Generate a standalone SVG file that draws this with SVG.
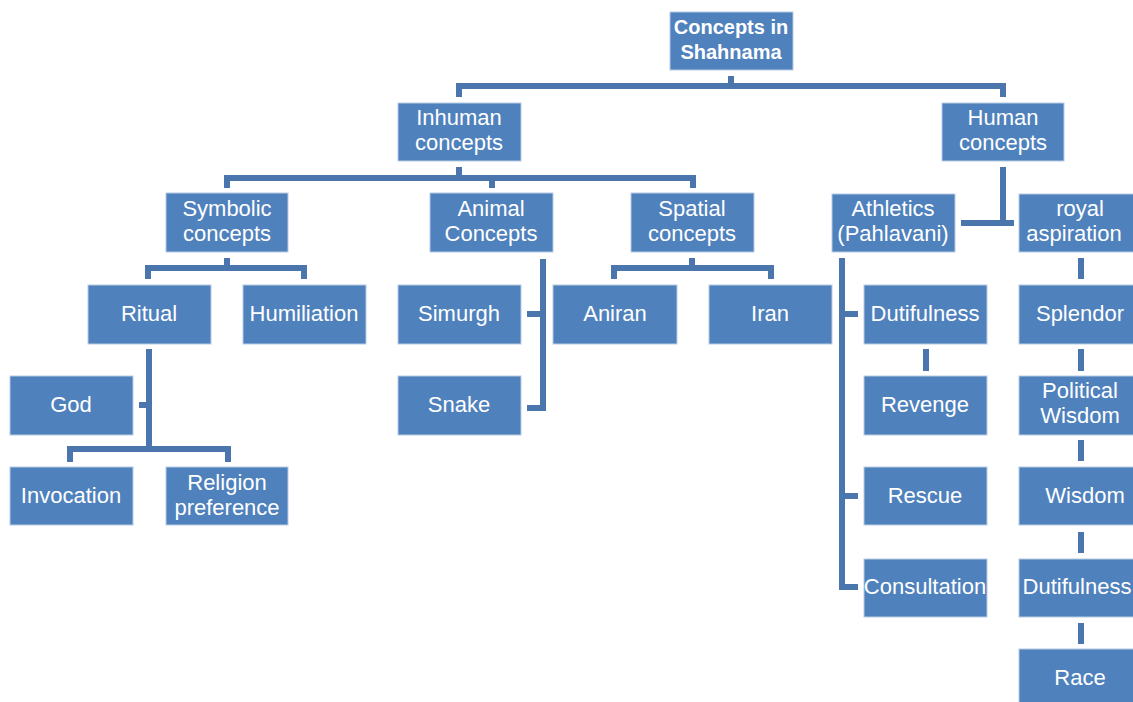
<svg xmlns="http://www.w3.org/2000/svg" width="1133" height="702" viewBox="0 0 1133 702">
<style>
.n rect{fill:#4F81BD;stroke:#B8CCE4;stroke-width:1}
.n text{fill:#fff;font-family:"Liberation Sans",Arial,sans-serif;font-size:22px;text-anchor:middle}
.n text.b{font-weight:bold;font-size:20px}
.c path{fill:none;stroke:#4A75AD;stroke-width:6;stroke-linejoin:miter}
</style>
<rect width="1133" height="702" fill="#fff"/>
<g class="c">
<path d="M731 76V86M459 97V86H1003V97"/>
<path d="M459 167V178M227 188V178H693V188M492 178V188"/>
<path d="M227 258V268M148 279V268H304V279"/>
<path d="M149 349V449M70 462V449H228V462M139 405H149"/>
<path d="M543 259V408H527M527 314H543"/>
<path d="M692 258V268M614 279V268H771V279"/>
<path d="M1003 167V223M961 223H1014"/>
<path d="M842 258V587H858M842 314H858M842 496H858"/>
<path d="M926 349V371"/>
<path d="M1081 258V279M1081 349V371M1081 440V461M1081 532V553M1081 623V644"/>
</g>
<g class="n" id="n-root"><rect x="670" y="12" width="123" height="58"/><text class="b" x="731" y="34">Concepts in</text><text class="b" x="731" y="59">Shahnama</text></g>
<g class="n" id="n-inhuman"><rect x="398" y="103" width="123" height="58"/><text x="459" y="125">Inhuman</text><text x="459" y="150">concepts</text></g>
<g class="n" id="n-human"><rect x="942" y="103" width="122" height="58"/><text x="1003" y="125">Human</text><text x="1003" y="150">concepts</text></g>
<g class="n" id="n-symbolic"><rect x="166" y="193" width="122" height="59"/><text x="227" y="216">Symbolic</text><text x="227" y="241">concepts</text></g>
<g class="n" id="n-animal"><rect x="430" y="193" width="123" height="59"/><text x="491" y="216">Animal</text><text x="491" y="241">Concepts</text></g>
<g class="n" id="n-spatial"><rect x="631" y="193" width="123" height="59"/><text x="692" y="216">Spatial</text><text x="692" y="241">concepts</text></g>
<g class="n" id="n-athletics"><rect x="832" y="194" width="123" height="58"/><text x="893" y="216">Athletics</text><text x="893" y="241">(Pahlavani)</text></g>
<g class="n" id="n-royal"><rect x="1019" y="194" width="123" height="58"/><text x="1080" y="216">royal</text><text x="1074" y="241">aspiration</text></g>
<g class="n" id="n-ritual"><rect x="88" y="285" width="123" height="59"/><text x="149" y="321">Ritual</text></g>
<g class="n" id="n-humiliation"><rect x="243" y="285" width="123" height="59"/><text x="304" y="321">Humiliation</text></g>
<g class="n" id="n-god"><rect x="10" y="376" width="123" height="59"/><text x="71" y="412">God</text></g>
<g class="n" id="n-invocation"><rect x="10" y="467" width="123" height="58"/><text x="71" y="503">Invocation</text></g>
<g class="n" id="n-religion"><rect x="166" y="467" width="122" height="58"/><text x="227" y="490">Religion</text><text x="227" y="515">preference</text></g>
<g class="n" id="n-simurgh"><rect x="398" y="285" width="123" height="59"/><text x="459" y="321">Simurgh</text></g>
<g class="n" id="n-snake"><rect x="398" y="376" width="123" height="59"/><text x="459" y="412">Snake</text></g>
<g class="n" id="n-aniran"><rect x="553" y="285" width="124" height="59"/><text x="615" y="321">Aniran</text></g>
<g class="n" id="n-iran"><rect x="709" y="285" width="123" height="59"/><text x="770" y="321">Iran</text></g>
<g class="n" id="n-dutifulness1"><rect x="864" y="285" width="123" height="59"/><text x="925" y="321">Dutifulness</text></g>
<g class="n" id="n-revenge"><rect x="864" y="376" width="123" height="59"/><text x="925" y="412">Revenge</text></g>
<g class="n" id="n-rescue"><rect x="864" y="467" width="123" height="58"/><text x="925" y="503">Rescue</text></g>
<g class="n" id="n-consultation"><rect x="864" y="559" width="123" height="58"/><text x="925" y="594">Consultation</text></g>
<g class="n" id="n-splendor"><rect x="1019" y="285" width="123" height="59"/><text x="1080" y="321">Splendor</text></g>
<g class="n" id="n-political"><rect x="1019" y="376" width="123" height="59"/><text x="1080" y="398">Political</text><text x="1080" y="423">Wisdom</text></g>
<g class="n" id="n-wisdom"><rect x="1019" y="467" width="123" height="58"/><text x="1085" y="503">Wisdom</text></g>
<g class="n" id="n-dutifulness2"><rect x="1019" y="559" width="123" height="58"/><text x="1077" y="594" font-size="21.5">Dutifulness</text></g>
<g class="n" id="n-race"><rect x="1019" y="649" width="123" height="59"/><text x="1080" y="685">Race</text></g>
</svg>
